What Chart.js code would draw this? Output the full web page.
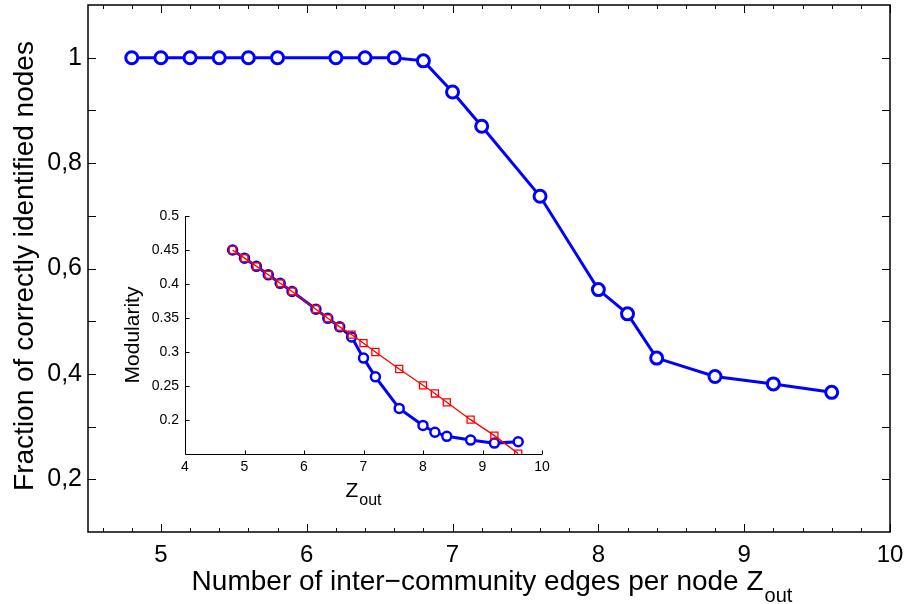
<!DOCTYPE html>
<html><head><meta charset="utf-8">
<script src="https://cdn.jsdelivr.net/npm/chart.js@4/dist/chart.umd.min.js"></script>
<style>
html,body{margin:0;padding:0;background:#fff;}
#wrap{position:relative;width:909px;height:604px;background:#fff;}
#main{position:absolute;left:0;top:0;}
#inset{position:absolute;left:110px;top:200px;}
</style></head><body>
<div id="wrap">
<canvas id="main" width="909" height="604"></canvas>
<canvas id="inset" width="450" height="310"></canvas>
</div>
<script>
// ---- data ----
const zOut = [4.8,5.0,5.2,5.4,5.6,5.8,6.2,6.4,6.6,6.8,7.0,7.2,7.6,8.0,8.2,8.4,8.8,9.2,9.6];
const fractionCorrect = [1,1,1,1,1,1,1,1,1,0.994,0.935,0.870,0.737,0.560,0.514,0.430,0.395,0.381,0.365];
const modularityBlue = [0.450,0.438,0.426,0.4135,0.401,0.389,0.363,0.3495,0.337,0.322,0.291,0.2635,0.217,0.192,0.182,0.176,0.1705,0.166,0.168];
const modularityRed  = [0.450,0.438,0.426,0.4135,0.401,0.389,0.363,0.3495,0.337,0.3256,0.313,0.300,0.275,0.251,0.239,0.226,0.2005,0.177,0.1506];
const mainXTicks = [5,6,7,8,9,10];
const mainXMinorTicks = [4.6,4.8,5.2,5.4,5.6,5.8,6.2,6.4,6.6,6.8,7.2,7.4,7.6,7.8,8.2,8.4,8.6,8.8,9.2,9.4,9.6,9.8];
const mainYTicks = [0.2,0.4,0.6,0.8,1];
const mainYTickLabels = ['0,2','0,4','0,6','0,8','1'];
const mainYMarks = [0.2,0.3,0.4,0.5,0.6,0.7,0.8,0.9,1.0];
const insetXTicks = [4,5,6,7,8,9,10];
const insetYTicks = [0.2,0.25,0.3,0.35,0.4,0.45,0.5];
const insetYTickLabels = ['0.2','0.25','0.3','0.35','0.4','0.45','0.5'];

const FONT = '"Liberation Sans", Arial, Helvetica, sans-serif';

function pts(xs, ys){ return xs.map((x,i)=>({x:x, y:ys[i]})); }
function noPad(s){ s.paddingTop = 0; s.paddingBottom = 0; s.paddingLeft = 0; s.paddingRight = 0; }

// ---- main chart ----
const mainFrame = {
  id:'mainFrame',
  afterDraw(chart){
    const ctx = chart.ctx, a = chart.chartArea, sx = chart.scales.x, sy = chart.scales.y;
    ctx.save();
    ctx.strokeStyle = '#000'; ctx.lineWidth = 1.5;
    ctx.strokeRect(a.left, a.top, a.right - a.left, a.bottom - a.top);
    ctx.lineWidth = 1;
    ctx.beginPath();
    mainXTicks.forEach(v=>{ const p = Math.round(sx.getPixelForValue(v))+0.5;
      ctx.moveTo(p, a.bottom); ctx.lineTo(p, a.bottom-8);
      ctx.moveTo(p, a.top); ctx.lineTo(p, a.top+8); });
    mainXMinorTicks.forEach(v=>{ const p = Math.round(sx.getPixelForValue(v))+0.5;
      ctx.moveTo(p, a.bottom); ctx.lineTo(p, a.bottom-4);
      ctx.moveTo(p, a.top); ctx.lineTo(p, a.top+4); });
    mainYMarks.forEach(v=>{ const p = Math.round(sy.getPixelForValue(v))+0.5;
      ctx.moveTo(a.left, p); ctx.lineTo(a.left+8, p);
      ctx.moveTo(a.right, p); ctx.lineTo(a.right-8, p); });
    ctx.stroke();
    // axis titles
    ctx.fillStyle = '#000';
    ctx.font = '28px ' + FONT;
    const main = 'Number of inter\u2212community edges per node Z';
    const wMain = ctx.measureText(main).width;
    ctx.font = '20px ' + FONT;
    const wSub = ctx.measureText('out').width;
    const total = wMain + 1 + wSub;
    const x0 = (a.left + a.right)/2 + 3 - total/2;
    ctx.textAlign = 'left'; ctx.textBaseline = 'alphabetic';
    ctx.font = '28px ' + FONT;
    ctx.fillText(main, x0, 590);
    ctx.font = '20px ' + FONT;
    ctx.fillText('out', x0 + wMain + 1, 602);
    ctx.save();
    ctx.translate(33, 266);
    ctx.rotate(-Math.PI/2);
    ctx.textAlign = 'center';
    ctx.font = '28px ' + FONT;
    ctx.fillText('Fraction of correctly identified nodes', 0, 0);
    ctx.restore();
    ctx.restore();
  }
};

new Chart(document.getElementById('main'), {
  type:'line',
  data:{ datasets:[{
    data: pts(zOut, fractionCorrect),
    borderColor:'#0000ff', borderWidth:3,
    pointRadius:6, pointBorderWidth:3, pointBorderColor:'#0000ff', pointBackgroundColor:'#ffffff',
    tension:0, fill:false
  }]},
  options:{
    responsive:false, animation:false, devicePixelRatio:1,
    layout:{autoPadding:false, padding:{top:5,right:19,left:0,bottom:0}},
    plugins:{legend:{display:false}, tooltip:{enabled:false}},
    scales:{
      x:{ type:'linear', min:4.5, max:10,
        grid:{display:false, drawTicks:false}, border:{display:false},
        afterBuildTicks:s=>{ s.ticks = mainXTicks.map(v=>({value:v})); },
        afterFit:s=>{ s.height = 72; noPad(s); },
        ticks:{ color:'#000', font:{family:FONT, size:24}, padding:9, maxRotation:0, autoSkip:false,
          callback:v=>String(v) } },
      y:{ type:'linear', min:0.1, max:1.1,
        grid:{display:false, drawTicks:false}, border:{display:false},
        afterBuildTicks:s=>{ s.ticks = mainYTicks.map(v=>({value:v})); },
        afterFit:s=>{ s.width = 88; noPad(s); },
        ticks:{ color:'#000', font:{family:FONT, size:25}, padding:6, autoSkip:false,
          callback:v=>{ const i = mainYTicks.findIndex(t=>Math.abs(t-v)<1e-9); return i>=0 ? mainYTickLabels[i] : ''; } } }
    }
  },
  plugins:[mainFrame]
});

// ---- inset chart ----
const insetFrame = {
  id:'insetFrame',
  afterDraw(chart){
    const ctx = chart.ctx, a = chart.chartArea, sx = chart.scales.x, sy = chart.scales.y;
    ctx.save();
    ctx.strokeStyle = '#000'; ctx.lineWidth = 1;
    ctx.beginPath();
    const L = Math.round(a.left)+0.5, B = Math.round(a.bottom)+0.5;
    ctx.moveTo(L, a.top); ctx.lineTo(L, B); ctx.lineTo(a.right, B);
    insetXTicks.forEach(v=>{ const p = Math.round(sx.getPixelForValue(v))+0.5;
      ctx.moveTo(p, B); ctx.lineTo(p, B-4); });
    insetYTicks.forEach(v=>{ const p = Math.round(sy.getPixelForValue(v))+0.5;
      ctx.moveTo(L, p); ctx.lineTo(L+4, p); });
    ctx.stroke();
    ctx.fillStyle = '#000';
    ctx.font = '21px ' + FONT;
    const wZ = ctx.measureText('Z').width;
    ctx.font = '16px ' + FONT;
    const wS = ctx.measureText('out').width;
    const x0 = (a.left + a.right)/2 - (wZ + 1 + wS)/2;
    ctx.textAlign = 'left'; ctx.textBaseline = 'alphabetic';
    ctx.font = '21px ' + FONT;
    ctx.fillText('Z', x0, 297);
    ctx.font = '16px ' + FONT;
    ctx.fillText('out', x0 + wZ + 1, 305);
    ctx.save();
    ctx.translate(29, (a.top + a.bottom)/2);
    ctx.rotate(-Math.PI/2);
    ctx.textAlign = 'center';
    ctx.font = '21px ' + FONT;
    ctx.fillText('Modularity', 0, 0);
    ctx.restore();
    ctx.restore();
  }
};

new Chart(document.getElementById('inset'), {
  type:'line',
  data:{ datasets:[
    { data: pts(zOut, modularityRed), order:0,
      borderColor:'#ff0000', borderWidth:1.3,
      pointStyle:'rect', pointRadius:5, pointBorderWidth:1.3, pointBorderColor:'#ff0000', pointBackgroundColor:'rgba(0,0,0,0)',
      tension:0, fill:false },
    { data: pts(zOut, modularityBlue), order:1,
      borderColor:'#0000ff', borderWidth:3,
      pointRadius:4.5, pointBorderWidth:2.5, pointBorderColor:'#0000ff', pointBackgroundColor:'#ffffff',
      tension:0, fill:false }
  ]},
  options:{
    responsive:false, animation:false, devicePixelRatio:1,
    layout:{autoPadding:false, padding:{top:16,right:18,left:0,bottom:0}},
    plugins:{legend:{display:false}, tooltip:{enabled:false}},
    scales:{
      x:{ type:'linear', min:4, max:10,
        grid:{display:false, drawTicks:false}, border:{display:false},
        afterBuildTicks:s=>{ s.ticks = insetXTicks.map(v=>({value:v})); },
        afterFit:s=>{ s.height = 56; noPad(s); },
        ticks:{ color:'#000', font:{family:FONT, size:14}, padding:5, maxRotation:0, autoSkip:false,
          callback:v=>String(v) } },
      y:{ type:'linear', min:0.15, max:0.5,
        grid:{display:false, drawTicks:false}, border:{display:false},
        afterBuildTicks:s=>{ s.ticks = insetYTicks.map(v=>({value:v})); },
        afterFit:s=>{ s.width = 75; noPad(s); },
        ticks:{ color:'#000', font:{family:FONT, size:14}, padding:6, autoSkip:false,
          callback:v=>{ const i = insetYTicks.findIndex(t=>Math.abs(t-v)<1e-9); return i>=0 ? insetYTickLabels[i] : ''; } } }
    }
  },
  plugins:[insetFrame]
});
</script>
</body></html>
